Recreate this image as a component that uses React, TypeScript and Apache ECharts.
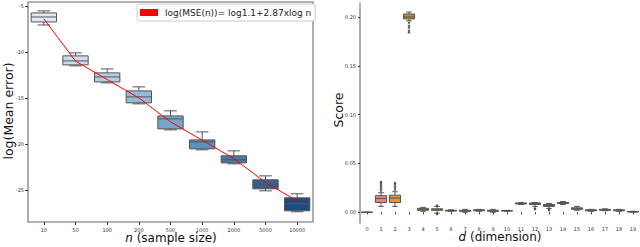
import React, { useEffect, useRef } from "react";
import * as echarts from "echarts";

// ---------- Left chart data ----------
const sampleSizes = ["10", "50", "100", "200", "500", "1000", "2000", "5000", "10000"];
const errLow = [-7.07, -11.52, -13.37, -15.65, -18.48, -20.65, -22.17, -25.11, -27.39];
const errQ1 = [-6.74, -11.41, -13.26, -15.54, -18.37, -20.54, -22.07, -24.89, -27.28];
const errMed = [-6.2, -10.98, -12.72, -14.89, -17.28, -19.78, -21.74, -24.46, -26.52];
const errQ3 = [-5.76, -10.43, -12.28, -14.24, -16.96, -19.57, -21.3, -23.91, -25.87];
const errHigh = [-5.54, -10.11, -11.85, -13.8, -16.41, -18.7, -20.76, -23.48, -25.43];
const fitLine = [-6.4, -11.0, -13.0, -15.0, -17.6, -19.6, -21.6, -24.2, -26.2];
const leftTicks = [-25, -20, -15, -10, -5];
const legendLabel = "log(MSE(n))= log1.1+2.87xlog n";
const blues = ["#dfeaf5", "#cadcee", "#b3cee4", "#93bad6", "#76a7cb", "#5a91bd", "#4479ab", "#306095", "#1f4a7e"];

// ---------- Right chart data ----------
const dims = ["0", "1", "2", "3", "4", "5", "6", "7", "8", "9", "10", "11", "12", "13", "14", "15", "16", "17", "18", "19"];
const scoreLow = [0, 0.006, 0.006, 0.196, 0.001, -0.001, 0.001, 0.0, 0.001, 0.0, 0.001, 0.008, 0.006, 0.004, 0.008, 0.002, 0.001, 0.0015, 0.001, 0.0];
const scoreQ1 = [0, 0.01, 0.01, 0.198, 0.002, 0.002, 0.0013, 0.001, 0.0015, 0.001, 0.0013, 0.0085, 0.008, 0.006, 0.009, 0.003, 0.0015, 0.002, 0.0015, 0.0003];
const scoreMed = [0, 0.014, 0.0145, 0.2, 0.003, 0.003, 0.0017, 0.0015, 0.002, 0.0015, 0.0015, 0.009, 0.009, 0.007, 0.0095, 0.004, 0.002, 0.0025, 0.002, 0.0005];
const scoreQ3 = [0, 0.017, 0.0175, 0.203, 0.004, 0.0035, 0.002, 0.002, 0.0025, 0.002, 0.0018, 0.0095, 0.0095, 0.008, 0.01, 0.0045, 0.0025, 0.003, 0.0025, 0.0008];
const scoreHigh = [0, 0.02, 0.021, 0.205, 0.005, 0.006, 0.0025, 0.003, 0.003, 0.003, 0.002, 0.01, 0.01, 0.009, 0.011, 0.006, 0.003, 0.0035, 0.003, 0.001];
const outlierDims = [1, 1, 1, 1, 1, 1, 2, 2, 2, 2, 2, 3, 3, 3, 3, 3, 5, 5, 12, 12, 13, 13];
const outlierVals = [0.022, 0.024, 0.026, 0.028, 0.03, 0.031, 0.023, 0.025, 0.027, 0.029, 0.03, 0.194, 0.191, 0.189, 0.186, 0.184, 0.007, -0.002, 0.004, 0.003, 0.002, 0.003];
const rightTicks = [0, 0.05, 0.1, 0.15, 0.2];
const huslColors = ["#f77189", "#f3857d", "#e0953a", "#c48a36", "#ae9d31", "#97a431", "#77ab31", "#36b04d", "#34ae89", "#36ada4", "#37abb4", "#39a8c6", "#3ca2df", "#3b8fd4", "#8c91f4", "#b286f4", "#d274f4", "#c08ad8", "#c58abf", "#f66ca2"];

const FONT = "DejaVu Sans";
const EDGE = "#555555";

function makeBoxRender(colors: string[], ratio: number) {
  return (params: any, api: any) => {
    const i = api.value(0);
    const lo = api.coord([i, api.value(1)]);
    const q1 = api.coord([i, api.value(2)]);
    const md = api.coord([i, api.value(3)]);
    const q3 = api.coord([i, api.value(4)]);
    const hi = api.coord([i, api.value(5)]);
    const band = api.size([1, 0])[0];
    const w = band * ratio;
    const cx = md[0];
    const ls = { stroke: EDGE, lineWidth: 1 };
    return {
      type: "group",
      children: [
        { type: "line", shape: { x1: cx, y1: q3[1], x2: cx, y2: hi[1] }, style: ls },
        { type: "line", shape: { x1: cx, y1: q1[1], x2: cx, y2: lo[1] }, style: ls },
        { type: "line", shape: { x1: cx - w / 4, y1: hi[1], x2: cx + w / 4, y2: hi[1] }, style: ls },
        { type: "line", shape: { x1: cx - w / 4, y1: lo[1], x2: cx + w / 4, y2: lo[1] }, style: ls },
        {
          type: "rect",
          shape: { x: cx - w / 2, y: q3[1], width: w, height: Math.max(q1[1] - q3[1], 0) },
          style: { fill: colors[i % colors.length], stroke: EDGE, lineWidth: 1 },
        },
        { type: "line", shape: { x1: cx - w / 2, y1: md[1], x2: cx + w / 2, y2: md[1] }, style: ls },
      ],
    };
  };
}

export default function App() {
  const ref = useRef<HTMLDivElement>(null);
  useEffect(() => {
    document.body.style.margin = "0";
    if (!ref.current) return;
    const chart = echarts.init(ref.current, undefined, { renderer: "svg" });

    const leftBoxes = sampleSizes.map((_, i) => [i, errLow[i], errQ1[i], errMed[i], errQ3[i], errHigh[i]]);
    const rightBoxes = dims.map((_, i) => [i, scoreLow[i], scoreQ1[i], scoreMed[i], scoreQ3[i], scoreHigh[i]]);
    const outliers = outlierDims.map((d, i) => [d, outlierVals[i]]);

    const tickLabel = { fontSize: 5, color: "#333", fontFamily: FONT };

    chart.setOption({
      animation: false,
      backgroundColor: "#ffffff",
      grid: [
        { left: 28, top: 2, width: 285, height: 220, show: true, borderColor: "#9a9a9a", borderWidth: 1.6, backgroundColor: "transparent" },
        { left: 360, top: 3, width: 284, height: 220, show: false },
      ],
      legend: {
        data: [{ name: legendLabel, icon: "rect" }],
        left: 137,
        top: 4,
        itemWidth: 18,
        itemHeight: 7,
        padding: [4, 4, 4, 3],
        borderColor: "#cccccc",
        borderWidth: 1,
        borderRadius: 2,
        backgroundColor: "#ffffff",
        textStyle: { fontSize: 9, fontFamily: FONT, color: "#222", padding: [0, 0, 0, 2] },
      },
      xAxis: [
        {
          type: "category",
          gridIndex: 0,
          data: sampleSizes,
          axisLine: { show: false },
          axisTick: { show: true, alignWithLabel: true, length: 3, lineStyle: { color: "#333" } },
          axisLabel: { ...tickLabel, margin: 5, interval: 0 },
          splitLine: { show: false },
        },
        {
          type: "category",
          gridIndex: 1,
          data: dims,
          axisLine: { show: false },
          axisTick: { show: true, alignWithLabel: true, length: 2, lineStyle: { color: "#333" } },
          axisLabel: { ...tickLabel, margin: 3, interval: 0 },
          splitLine: { show: false },
        },
      ],
      yAxis: [
        {
          type: "value",
          gridIndex: 0,
          min: -28.5,
          max: -4.57,
          axisLine: { show: false },
          axisTick: { show: true, length: 3, customValues: leftTicks, lineStyle: { color: "#333" } },
          axisLabel: { ...tickLabel, margin: 4, customValues: leftTicks },
          splitLine: { show: false },
        },
        {
          type: "value",
          gridIndex: 1,
          min: -0.011,
          max: 0.2143,
          axisLine: { show: true, lineStyle: { color: "#9a9a9a", width: 1.6 } },
          axisTick: { show: true, length: 2, customValues: rightTicks, lineStyle: { color: "#333" } },
          axisLabel: { ...tickLabel, margin: 4, customValues: rightTicks, formatter: (v: number) => v.toFixed(2) },
          splitLine: { show: false },
        },
      ],
      series: [
        {
          type: "custom",
          xAxisIndex: 0,
          yAxisIndex: 0,
          renderItem: makeBoxRender(blues, 0.8),
          encode: { x: 0, y: [1, 2, 3, 4, 5] },
          data: leftBoxes,
          z: 2,
        },
        {
          name: legendLabel,
          type: "line",
          xAxisIndex: 0,
          yAxisIndex: 0,
          data: fitLine,
          showSymbol: false,
          symbol: "none",
          color: "#ff0000",
          itemStyle: { color: "#ff0000" },
          lineStyle: { color: "#ff0000", width: 1 },
          z: 5,
        },
        {
          type: "custom",
          xAxisIndex: 1,
          yAxisIndex: 1,
          renderItem: makeBoxRender(huslColors, 0.8),
          encode: { x: 0, y: [1, 2, 3, 4, 5] },
          data: rightBoxes,
          z: 2,
        },
        {
          type: "scatter",
          xAxisIndex: 1,
          yAxisIndex: 1,
          data: outliers,
          symbol: "diamond",
          symbolSize: 3,
          itemStyle: { color: "#3a3a3a" },
          z: 3,
        },
      ],
      graphic: [
        {
          type: "text",
          x: 8,
          y: 111,
          rotation: Math.PI / 2,
          style: { text: "log(Mean error)", fontSize: 12.5, fontFamily: FONT, fill: "#111", textAlign: "center", textVerticalAlign: "middle" },
        },
        {
          type: "text",
          x: 171,
          y: 238,
          style: {
            text: "{i|n} (sample size)",
            fontSize: 12,
            fontFamily: FONT,
            fill: "#111",
            textAlign: "center",
            textVerticalAlign: "middle",
            rich: { i: { fontStyle: "italic", fontSize: 12, fontFamily: FONT, fill: "#111" } },
          },
        },
        {
          type: "text",
          x: 338,
          y: 110,
          rotation: Math.PI / 2,
          style: { text: "Score", fontSize: 12.5, fontFamily: FONT, fill: "#111", textAlign: "center", textVerticalAlign: "middle" },
        },
        {
          type: "text",
          x: 500,
          y: 237,
          style: {
            text: "{i|d} (dimension)",
            fontSize: 12,
            fontFamily: FONT,
            fill: "#111",
            textAlign: "center",
            textVerticalAlign: "middle",
            rich: { i: { fontStyle: "italic", fontSize: 12, fontFamily: FONT, fill: "#111" } },
          },
        },
      ],
    });
    return () => chart.dispose();
  }, []);
  return <div ref={ref} style={{ width: 640, height: 247 }} />;
}
